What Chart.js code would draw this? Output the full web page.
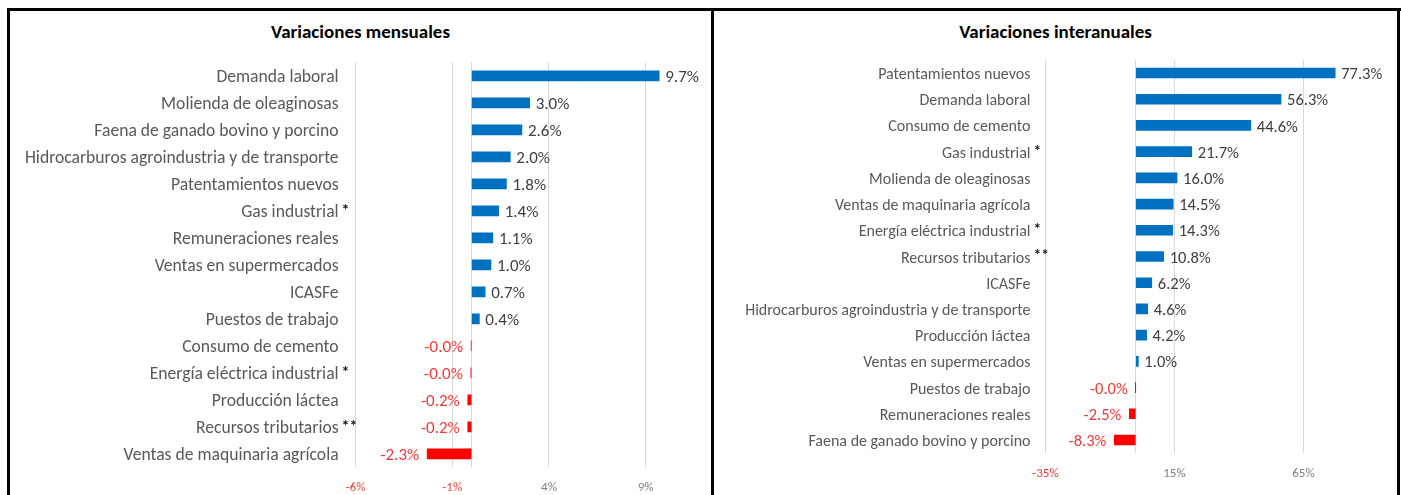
<!DOCTYPE html>
<html>
<head>
<meta charset="utf-8">
<script src="https://cdn.jsdelivr.net/npm/chart.js@4"></script>
<style>
  body { margin:0; background:#fff; width:1401px; height:495px; overflow:hidden; position:relative; font-family:Carlito, Lato, sans-serif }
  .ln { position:absolute; background:#000 }
  .ttl { position:absolute; top:20px; font-weight:bold; font-size:19px; line-height:23px; color:#000; text-align:center }
  canvas { position:absolute }
</style>
</head>
<body>
<div class="ln" style="left:7px;top:8px;width:1394px;height:3px"></div>
<div class="ln" style="left:7px;top:8px;width:3px;height:490px"></div>
<div class="ln" style="left:711px;top:8px;width:3px;height:490px"></div>
<div class="ln" style="left:1397px;top:8px;width:3px;height:490px"></div>
<div class="ttl" style="left:10px;width:701px">Variaciones mensuales</div>
<div class="ttl" style="left:714px;width:683px">Variaciones interanuales</div>
<div style="position:absolute;left:10px;top:11px;width:701px;height:484px"><canvas id="cM"></canvas></div>
<div style="position:absolute;left:714px;top:11px;width:683px;height:484px"><canvas id="cI"></canvas></div>
<script>
// Variaciones mensuales
const catM = ['Demanda laboral', 'Molienda de oleaginosas', 'Faena de ganado bovino y porcino', 'Hidrocarburos agroindustria y de transporte',
  'Patentamientos nuevos', 'Gas industrial', 'Remuneraciones reales', 'Ventas en supermercados', 'ICASFe', 'Puestos de trabajo',
  'Consumo de cemento', 'Energía eléctrica industrial', 'Producción láctea', 'Recursos tributarios', 'Ventas de maquinaria agrícola'];
const markM = ['', '', '', '', '', '*', '', '', '', '', '', '*', '', '**', ''];
const valM = [9.7, 3.0, 2.6, 2.0, 1.8, 1.4, 1.1, 1.0, 0.7, 0.4, -0.02, -0.04, -0.2, -0.2, -2.3];
const ticksM = [-6, -1, 0, 4, 9];

// Variaciones interanuales
const catI = ['Patentamientos nuevos', 'Demanda laboral', 'Consumo de cemento', 'Gas industrial', 'Molienda de oleaginosas',
  'Ventas de maquinaria agrícola', 'Energía eléctrica industrial', 'Recursos tributarios', 'ICASFe',
  'Hidrocarburos agroindustria y de transporte', 'Producción láctea', 'Ventas en supermercados', 'Puestos de trabajo',
  'Remuneraciones reales', 'Faena de ganado bovino y porcino'];
const markI = ['', '', '', '*', '', '', '*', '**', '', '', '', '', '', '', ''];
const valI = [77.3, 56.3, 44.6, 21.7, 16.0, 14.5, 14.3, 10.8, 6.2, 4.6, 4.2, 1.0, -0.02, -2.5, -8.3];
const ticksI = [-35, 0, 15, 65];

const FONT = 'Carlito, Lato, sans-serif';
const BLUE = '#0070C0', RED = '#FF0000', RED_TXT = '#F03A3A', GRAY = '#595959', GRID = '#D9D9D9';

// etiquetas de valor + asteriscos
const labelsPlugin = {
  id: 'lbls',
  afterDatasetsDraw(chart, args, opts) {
    const ctx = chart.ctx;
    const meta = chart.getDatasetMeta(0);
    const vals = chart.data.datasets[0].data;
    ctx.save();
    ctx.font = opts.size + 'px ' + FONT;
    ctx.textBaseline = 'middle';
    meta.data.forEach((bar, i) => {
      const v = vals[i];
      const t = v.toFixed(1) + '%';
      if (v >= 0) { ctx.fillStyle = '#404040'; ctx.textAlign = 'left'; ctx.fillText(t, bar.x + 6, bar.y + 2) }
      else { ctx.fillStyle = RED_TXT; ctx.textAlign = 'right'; ctx.fillText(t, bar.x - 8, bar.y + 2) }
    });
    // asteriscos al lado de la categoría
    const ys = chart.scales.y;
    const xr = ys.right - ys.options.ticks.padding;
    ctx.font = 'bold ' + (opts.size - 1) + 'px ' + FONT;
    ctx.fillStyle = '#222';
    ctx.textAlign = 'left';
    opts.marks.forEach((m, i) => {
      if (m) ctx.fillText(m, xr + 3, ys.getPixelForValue(i));
    });
    ctx.restore();
  }
};

function makeChart(id, cats, vals, marks, ticks, cfg) {
  return new Chart(document.getElementById(id), {
    type: 'bar',
    data: { labels: cats, datasets: [{ data: vals, backgroundColor: vals.map(v => v < 0 ? RED : BLUE), barThickness: 10, borderWidth: 0 }] },
    plugins: [labelsPlugin],
    options: {
      indexAxis: 'y', responsive: true, maintainAspectRatio: false, animation: false,
      layout: { padding: { top: cfg.top, right: cfg.right, bottom: 0, left: 0 } },
      plugins: { legend: { display: false }, tooltip: { enabled: false }, lbls: { size: cfg.vsize, marks } },
      scales: {
        x: {
          min: cfg.min, max: cfg.max,
          afterBuildTicks: s => { s.ticks = ticks.map(v => ({ value: v })) },
          afterFit: s => { s.height = cfg.xh },
          grid: { color: GRID, drawTicks: false },
          border: { display: false },
          ticks: { padding: cfg.tpad, font: { family: FONT, size: 13 }, maxRotation: 0,
            color: c => c.tick && c.tick.value < 0 ? RED_TXT : '#7F7F7F',
            callback: v => v === 0 ? '' : v + '%' }
        },
        y: {
          afterFit: s => { s.width = cfg.yw },
          grid: { display: false, drawTicks: false },
          border: { display: false },
          ticks: { padding: cfg.ypad, labelOffset: 2, color: GRAY, font: { family: FONT, size: cfg.lsize }, autoSkip: false }
        }
      }
    }
  });
}

makeChart('cM', catM, valM, markM, ticksM, { top: 51.4, right: 7.3, xh: 23.4, min: -6, max: 12, yw: 345.6, ypad: 17, tpad: 13, lsize: 17.6, vsize: 17 });
makeChart('cI', catI, valI, markI, ticksI, { top: 48.9, right: 8.4, xh: 41.9, min: -35, max: 98, yw: 331.5, ypad: 15, tpad: 13, lsize: 16, vsize: 16.5 });
</script>
</body>
</html>
